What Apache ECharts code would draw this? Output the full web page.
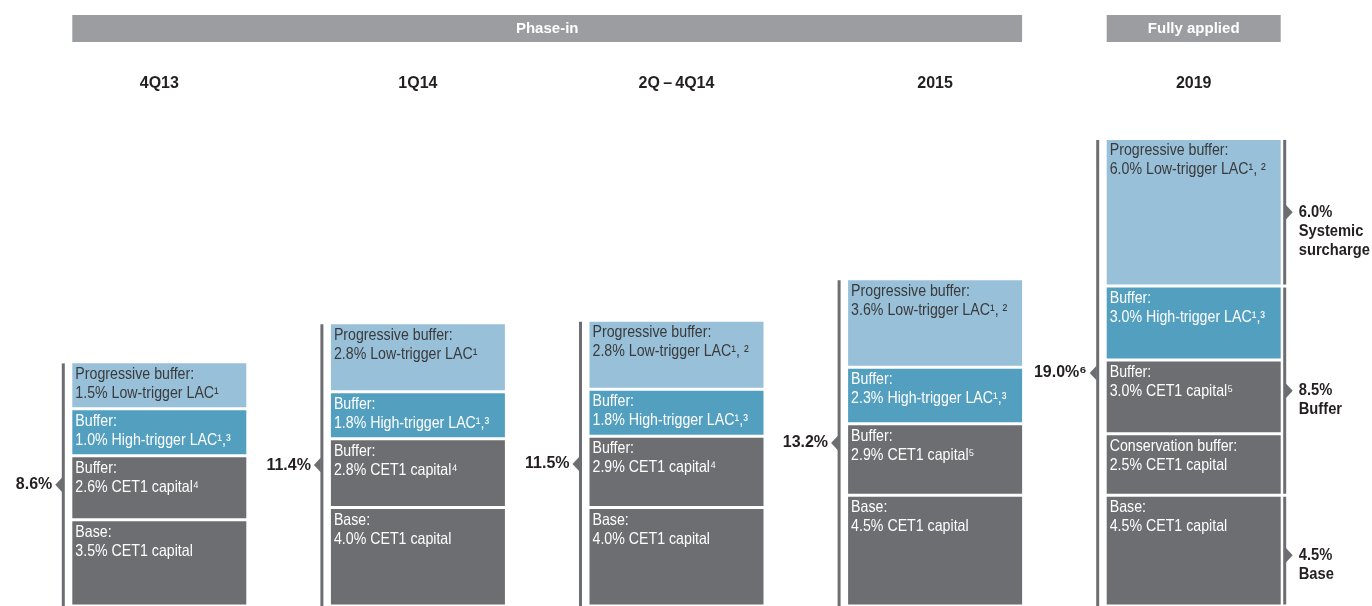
<!DOCTYPE html>
<html>
<head>
<meta charset="utf-8">
<script src="https://cdn.jsdelivr.net/npm/echarts@6/dist/echarts.min.js"></script>
<style>
  html, body { margin: 0; padding: 0; background: #fff; }
  #chart { width: 1372px; height: 606px; }
</style>
</head>
<body>
<div id="chart"></div>
<script>
// categories and values (percent of RWA)
const categories = ['4Q13', '1Q14', '2Q\u2009–\u20094Q14', '2015', '2019'];
const baseCet1 = [3.5, 4.0, 4.0, 4.5, 4.5];
const conservationBuffer = [null, null, null, null, 2.5];
const cet1Buffer = [2.6, 2.8, 2.9, 2.9, 3.0];
const highTriggerLac = [1.0, 1.8, 1.8, 2.3, 3.0];
const lowTriggerLac = [1.5, 2.8, 2.8, 3.6, 6.0];
const totals = [8.6, 11.4, 11.5, 13.2, 19.0];

// footnote marks
const cet1Notes = ['⁴', '⁴', '⁴', '⁵', '⁵'];
const highNotes = ['¹,³', '¹,³', '¹,³', '¹,³', '¹,³'];
const lowNotes = ['¹', '¹', '¹, ²', '¹, ²', '¹, ²'];
const totalNotes = ['', '', '', '', '⁶'];

// header groups: first and last category index
const phaseRanges = [[0, 3], [4, 4]];
const phaseNames = ['Phase-in', 'Fully applied'];

// 2019 breakdown on the right
const fullyAppliedParts = [4.5, 8.5, 6.0];
const fullyAppliedNames = ['Base', 'Buffer', 'Systemic\nsurcharge'];

const FONT = '"Liberation Sans", Arial, sans-serif';
const BAR_W = 174;
const GAP = 3;
const MIN_H = 47;
const GRAY = '#6d6e71';
const INK = '#231f20';

const chart = echarts.init(document.getElementById('chart'));

const pct = v => v.toFixed(1) + '%';

// stacked segments, bottom to top
const stacks = [
  { name: 'Base', values: baseCet1, color: GRAY, text: '#fff', minH: 0,
    fmt: i => 'Base:\n' + pct(baseCet1[i]) + ' CET1 capital' },
  { name: 'Conservation buffer', values: conservationBuffer, color: GRAY, text: '#fff', minH: 0,
    fmt: i => 'Conservation buffer:\n' + pct(conservationBuffer[i]) + ' CET1 capital' },
  { name: 'CET1 buffer', values: cet1Buffer, color: GRAY, text: '#fff', minH: 0,
    fmt: i => 'Buffer:\n' + pct(cet1Buffer[i]) + ' CET1 capital' + cet1Notes[i] },
  { name: 'High-trigger LAC', values: highTriggerLac, color: '#529fc0', text: '#fff', minH: MIN_H,
    fmt: i => 'Buffer:\n' + pct(highTriggerLac[i]) + ' High-trigger LAC' + highNotes[i] },
  { name: 'Low-trigger LAC', values: lowTriggerLac, color: '#98c0d8', text: '#3a3a3c', minH: MIN_H,
    fmt: i => 'Progressive buffer:\n' + pct(lowTriggerLac[i]) + ' Low-trigger LAC' + lowNotes[i] }
];

// drawn height of the first `upTo` layers in column i (small layers get a minimum height so the text fits)
const stackHeight = (i, unit, upTo) => stacks.slice(0, upTo).reduce((h, s) => {
  const v = s.values[i];
  return v == null ? h : h + Math.max(v * unit, s.minH);
}, 0);

const layerSeries = stacks.map((s, k) => ({
  name: s.name,
  type: 'custom',
  data: s.values.map((v, i) => (v == null ? null : [i, v])).filter(Boolean),
  clip: false,
  silent: true,
  renderItem(params, api) {
    const i = api.value(0);
    const p0 = api.coord([i, 0]);
    const unit = api.size([0, 1])[1];
    const yBottom = p0[1] - stackHeight(i, unit, k);
    const h = Math.max(api.value(1) * unit, s.minH);
    const x = p0[0] - BAR_W / 2;
    const top = yBottom - h + GAP / 2;
    return {
      type: 'group',
      children: [
        { type: 'rect', shape: { x: x, y: top, width: BAR_W, height: h - GAP }, style: { fill: s.color } },
        { type: 'text', x: x + 3, y: top + 1.5, scaleX: 0.86,
          style: { text: s.fmt(i), font: '16.5px ' + FONT, lineHeight: 19, fill: s.text,
                   align: 'left', verticalAlign: 'top' } }
      ]
    };
  }
}));

const totalSeries = {
  type: 'custom',
  data: totals.map((t, i) => [i, t]),
  clip: false,
  silent: true,
  z: 5,
  renderItem(params, api) {
    const i = api.value(0);
    const p0 = api.coord([i, 0]);
    const unit = api.size([0, 1])[1];
    const yTop = p0[1] - stackHeight(i, unit, stacks.length) + GAP / 2;
    const x = p0[0] - BAR_W / 2 - 9;
    const ym = (yTop + p0[1]) / 2;
    return {
      type: 'group',
      children: [
        { type: 'rect', shape: { x: x - 1.5, y: yTop, width: 3, height: p0[1] - yTop }, style: { fill: GRAY } },
        { type: 'polygon', shape: { points: [[x - 1, ym - 7.5], [x - 8, ym], [x - 1, ym + 7.5]] }, style: { fill: GRAY } },
        { type: 'text', style: {
            text: pct(api.value(1)) + totalNotes[i], x: x - 11, y: ym,
            align: 'right', verticalAlign: 'middle',
            font: 'bold 16px ' + FONT, fill: INK } }
      ]
    };
  }
};

// right-hand brackets for the fully applied column
let acc = 0;
const fullyAppliedData = fullyAppliedParts.map(v => {
  const row = [categories.length - 1, acc, acc + v];
  acc += v;
  return row;
});

const fullySeries = {
  type: 'custom',
  data: fullyAppliedData,
  clip: false,
  silent: true,
  z: 5,
  renderItem(params, api) {
    const i = params.dataIndex;
    const a = api.coord([api.value(0), api.value(1)]);
    const b = api.coord([api.value(0), api.value(2)]);
    const x = a[0] + BAR_W / 2 + 4;
    const y1 = a[1] - GAP / 2;
    const y2 = b[1] + GAP / 2;
    const ym = i === 0 ? (y2 + 606) / 2 + 4 : (y1 + y2) / 2;
    return {
      type: 'group',
      children: [
        { type: 'rect', shape: { x: x - 1.5, y: y2, width: 3, height: y1 - y2 }, style: { fill: GRAY } },
        { type: 'polygon', shape: { points: [[x + 1, ym - 7.5], [x + 8, ym], [x + 1, ym + 7.5]] }, style: { fill: GRAY } },
        { type: 'text', x: x + 14, y: ym - 9.5, scaleX: 0.92,
          style: { text: pct(fullyAppliedParts[i]) + '\n' + fullyAppliedNames[i],
                   align: 'left', verticalAlign: 'top', lineHeight: 19,
                   font: 'bold 16px ' + FONT, fill: INK } }
      ]
    };
  }
};

const headerSeries = {
  type: 'custom',
  data: phaseRanges,
  clip: false,
  silent: true,
  renderItem(params, api) {
    const x1 = api.coord([api.value(0), 0])[0] - BAR_W / 2;
    const x2 = api.coord([api.value(1), 0])[0] + BAR_W / 2;
    const top = params.coordSys.y - 84;
    return {
      type: 'group',
      children: [
        { type: 'rect', shape: { x: x1, y: top, width: x2 - x1, height: 27 }, style: { fill: '#9c9da0' } },
        { type: 'text', style: {
            text: phaseNames[params.dataIndex], x: (x1 + x2) / 2, y: top + 13.5,
            align: 'center', verticalAlign: 'middle',
            font: 'bold 15px ' + FONT, fill: '#fff' } }
      ]
    };
  }
};

chart.setOption({
  animation: false,
  backgroundColor: '#fff',
  grid: { left: 30, right: 49, top: 99, bottom: -3 },
  xAxis: {
    type: 'category',
    position: 'top',
    data: categories,
    axisLine: { show: false },
    axisTick: { show: false },
    axisLabel: { color: INK, fontWeight: 'bold', fontSize: 16, fontFamily: FONT, margin: 7 }
  },
  yAxis: {
    type: 'value',
    min: 0,
    max: 20.6,
    show: false,
    splitLine: { show: false }
  },
  series: [...layerSeries, totalSeries, fullySeries, headerSeries]
});
</script>
</body>
</html>
